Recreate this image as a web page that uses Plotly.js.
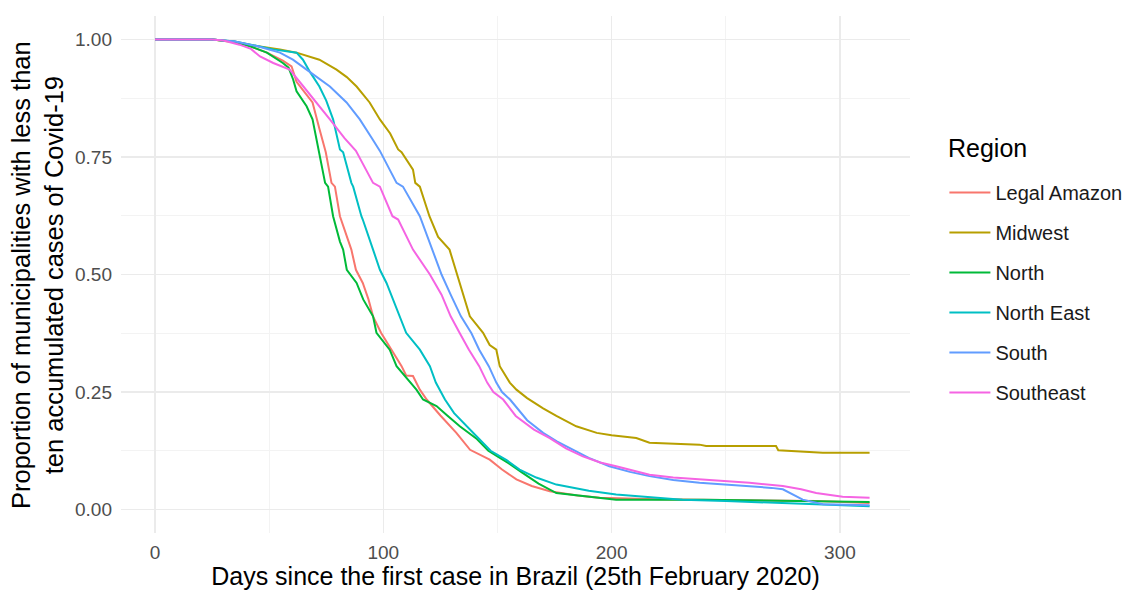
<!DOCTYPE html>
<html>
<head>
<meta charset="utf-8">
<script src="https://cdn.plot.ly/plotly-3.0.1.min.js"></script>
<style>html,body{margin:0;padding:0;background:#fff;}#chart{width:1130px;height:590px;}</style>
</head>
<body>
<div id="chart"></div>
<script>
// Region names (legend order)
const regions = ["Legal Amazon", "Midwest", "North", "North East", "South", "Southeast"];

// Legal Amazon
const daysLegal = [0,25,35,42,49,56,59.8,62,66,69,72,74.8,77.3,78.8,81,86,88,91,93.5,95.5,99,103.6,108,110,113,116,119,125,132,138,146.6,152,158.3,165,172.9,185,194.7,220,260,290,313];
const propLegal = [1,1,0.995,0.985,0.972,0.955,0.943,0.91,0.885,0.866,0.81,0.76,0.695,0.687,0.624,0.553,0.51,0.482,0.447,0.411,0.376,0.34,0.305,0.285,0.284,0.255,0.234,0.2,0.163,0.127,0.106,0.085,0.064,0.05,0.039,0.03,0.025,0.022,0.02,0.018,0.014];

// Midwest
const daysMidwest = [0,25,37,44.5,54.7,62,72,79.5,84,88.3,94,98.5,103,106.5,108,113,114,116,120.2,124,129,133.5,135.5,137.9,143.7,146.6,149.5,151,155.4,158.3,163,170,175.8,184.5,193.5,200,210.8,216.6,238.5,241.4,272,273,292.5,313];
const propMidwest = [1,1,0.993,0.986,0.979,0.972,0.957,0.936,0.92,0.9,0.866,0.83,0.8,0.766,0.76,0.723,0.695,0.687,0.624,0.58,0.553,0.482,0.447,0.411,0.376,0.35,0.34,0.305,0.27,0.255,0.237,0.215,0.199,0.177,0.163,0.158,0.152,0.142,0.138,0.135,0.135,0.126,0.121,0.121];

// North
const daysNorth = [0,25,35,42,49,56,58.5,60.5,62,66.4,69,72,74.5,75.8,78,81,82.4,84,88.3,91.2,95.5,97,102.8,105.8,111.6,114.5,117.4,123.3,128,133.5,141,146,150,155,161,168,175.8,190,202,240,280,313];
const propNorth = [1,1,0.995,0.985,0.972,0.95,0.94,0.915,0.89,0.858,0.83,0.76,0.695,0.687,0.624,0.57,0.553,0.51,0.482,0.447,0.411,0.376,0.34,0.305,0.27,0.255,0.234,0.22,0.2,0.177,0.15,0.125,0.113,0.098,0.078,0.055,0.035,0.028,0.021,0.021,0.018,0.016];

// North East
const daysNorthEast = [0,25,35,45,51.8,62,64.8,68,72,75,78,81,82.4,86,86.8,90.4,91,95.5,98.5,101.4,104.3,107,110,116,120.4,123,127,131,136.4,142,147,154,159.7,167,175.8,190,202,231,250,275,290,313];
const propNorthEast = [1,1,0.996,0.985,0.979,0.972,0.957,0.93,0.9,0.87,0.83,0.766,0.76,0.695,0.687,0.624,0.617,0.553,0.51,0.482,0.447,0.411,0.376,0.34,0.305,0.27,0.234,0.205,0.177,0.15,0.125,0.105,0.085,0.068,0.053,0.04,0.032,0.021,0.018,0.014,0.011,0.007];

// South
const daysSouth = [0,25,35,44.5,54.7,60.4,66.4,71,76.6,83.9,89.7,95,98.5,105.8,108.6,116,121.5,125.5,129.5,134,138.6,142,146.2,149.5,152,155.5,163,170,176,183,190,199,208,216.6,227,238.5,250,260.4,270,275,280,283.7,292.5,313];
const propSouth = [1,1,0.996,0.986,0.972,0.957,0.936,0.92,0.9,0.866,0.83,0.79,0.763,0.695,0.687,0.624,0.553,0.5,0.457,0.411,0.375,0.34,0.305,0.27,0.25,0.234,0.19,0.163,0.145,0.128,0.11,0.092,0.08,0.071,0.063,0.057,0.053,0.05,0.046,0.043,0.03,0.021,0.011,0.009];

// Southeast
const daysSoutheast = [0,25,30,37,42,46,51.8,59,65,70.8,76.6,83,88,95.5,98.5,104,106.5,113,120.4,125.5,129.5,133.5,137.5,142,145.5,148.2,152.5,158,166,172.9,180,187.4,195,202,210,216.6,227,238.5,250,260.4,275,283,289.6,301.2,313];
const propSoutheast = [1,1,0.998,0.989,0.98,0.964,0.95,0.936,0.9,0.866,0.83,0.79,0.763,0.695,0.687,0.624,0.617,0.553,0.5,0.457,0.411,0.375,0.34,0.305,0.27,0.25,0.234,0.199,0.17,0.152,0.13,0.113,0.1,0.092,0.082,0.074,0.068,0.064,0.06,0.057,0.05,0.043,0.035,0.027,0.025];

const xTicks = [0, 100, 200, 300];
const yTicks = [0, 0.25, 0.5, 0.75, 1];
const yTickLabels = ["0.00", "0.25", "0.50", "0.75", "1.00"];

const seriesX = [daysLegal, daysMidwest, daysNorth, daysNorthEast, daysSouth, daysSoutheast];
const seriesY = [propLegal, propMidwest, propNorth, propNorthEast, propSouth, propSoutheast];
const colors = ["#F8766D", "#B79F00", "#00BA38", "#00BFC4", "#619CFF", "#F564E3"];

const traces = regions.map((r, i) => ({
  type: "scatter",
  mode: "lines",
  name: r,
  legendgroup: "g" + i,
  x: seriesX[i],
  y: seriesY[i],
  line: {color: colors[i], width: 2, shape: "linear"}
}));

const font = "Liberation Sans, Arial, sans-serif";

const layout = {
  width: 1130,
  height: 590,
  margin: {l: 121, r: 220, t: 16, b: 57, autoexpand: false},
  paper_bgcolor: "#ffffff",
  plot_bgcolor: "#ffffff",
  font: {family: font, color: "#000000"},
  showlegend: true,
  legend: {
    x: 1.0436, xanchor: "left",
    y: 0.6965, yanchor: "top",
    traceorder: "grouped",
    tracegroupgap: 11,
    bgcolor: "rgba(0,0,0,0)",
    font: {family: font, size: 20, color: "#1a1a1a"},
    itemwidth: 41
  },
  annotations: [
    {
      text: "Region", xref: "paper", yref: "paper",
      x: 1.0456, xanchor: "left", y: (533 - 148) / 517, yanchor: "middle",
      showarrow: false, font: {family: font, size: 25, color: "#000000"}
    },
    {
      text: "Proportion of municipalities with less than<br>ten accumulated cases of Covid-19",
      xref: "paper", yref: "paper",
      x: (37 - 121) / 789, xanchor: "center", y: (533 - 275) / 517, yanchor: "middle",
      textangle: -90, showarrow: false,
      font: {family: font, size: 25.5, color: "#000000"}
    }
  ],
  xaxis: {
    range: [-14.9, 330.7],
    tickvals: xTicks,
    ticktext: xTicks.map(String),
    showline: false,
    zeroline: false,
    ticks: "",
    ticklabelstandoff: 6,
    tickfont: {family: font, size: 19, color: "#4d4d4d"},
    showgrid: true,
    gridcolor: "#ebebeb",
    gridwidth: 1.6,
    minor: {dtick: 50, tick0: 50, showgrid: true, gridcolor: "#f3f3f3", gridwidth: 1},
    title: {text: "Days since the first case in Brazil (25th February 2020)", font: {family: font, size: 25, color: "#000000"}, standoff: 5},
    automargin: false
  },
  yaxis: {
    range: [-0.05, 1.05],
    tickvals: yTicks,
    ticktext: yTickLabels,
    showline: false,
    zeroline: false,
    ticks: "",
    ticklabelstandoff: 8,
    tickfont: {family: font, size: 19, color: "#4d4d4d"},
    showgrid: true,
    gridcolor: "#ebebeb",
    gridwidth: 1.6,
    minor: {dtick: 0.125, tick0: 0.125, showgrid: true, gridcolor: "#f3f3f3", gridwidth: 1},
    automargin: false
  }
};

Plotly.newPlot("chart", traces, layout, {displayModeBar: false, staticPlot: true});
</script>
</body>
</html>
